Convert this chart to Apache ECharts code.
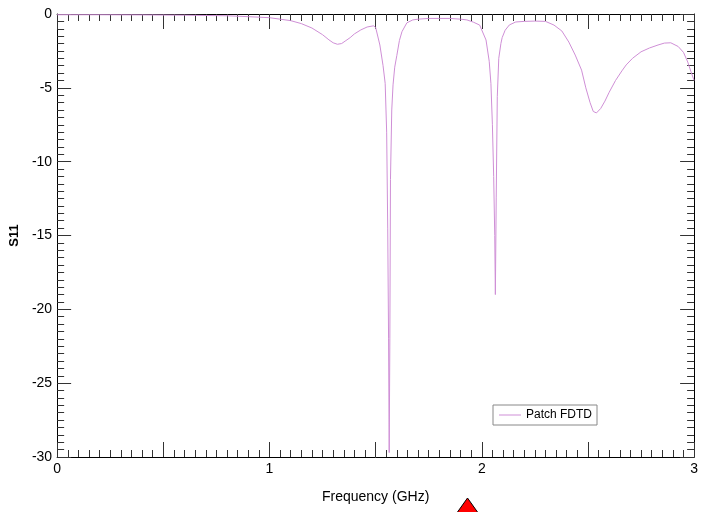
<!DOCTYPE html>
<html>
<head>
<meta charset="utf-8">
<script src="https://cdn.jsdelivr.net/npm/echarts@6/dist/echarts.min.js"></script>
<style>
  html, body { margin: 0; padding: 0; background: #fff; }
  #chart { width: 701px; height: 512px; }
</style>
</head>
<body>
<div id="chart"></div>
<script>
// frequency points (GHz) and S11 values (dB)
var freq = [
  0.00, 0.20, 0.40, 0.60, 0.80, 0.90, 1.00, 1.05, 1.10, 1.15,
  1.20, 1.25, 1.28, 1.30, 1.32, 1.34, 1.36, 1.38, 1.40, 1.43,
  1.46, 1.49, 1.50, 1.52, 1.535, 1.545, 1.552, 1.557, 1.561, 1.564,
  1.567, 1.570, 1.576, 1.582, 1.59, 1.60, 1.612, 1.624, 1.647, 1.675,
  1.70, 1.75, 1.80, 1.85, 1.90, 1.93, 1.96, 1.99, 2.02, 2.035,
  2.043, 2.05, 2.056, 2.061, 2.064, 2.068, 2.073, 2.08, 2.09, 2.096,
  2.11, 2.13, 2.16, 2.20, 2.25, 2.30, 2.34, 2.377, 2.41, 2.44,
  2.47, 2.49, 2.51, 2.525, 2.54, 2.56, 2.58, 2.60, 2.63, 2.66,
  2.68, 2.71, 2.75, 2.79, 2.83, 2.86, 2.89, 2.925, 2.95, 2.97,
  2.985, 3.00
];
var s11 = [
  -0.05, -0.05, -0.06, -0.08, -0.12, -0.18, -0.25, -0.35, -0.45, -0.65,
  -0.95, -1.4, -1.75, -1.95, -2.05, -2.0, -1.8, -1.6, -1.35, -1.08,
  -0.88, -0.8, -0.9, -2.1, -3.5, -4.7, -8, -14.5, -22, -29.7,
  -22, -11.2, -6.5, -4.8, -3.6, -2.8, -1.8, -1.2, -0.6, -0.4,
  -0.35, -0.3, -0.3, -0.3, -0.35, -0.4, -0.55, -0.75, -1.76, -3.2,
  -4.7, -7.5, -11, -15, -19, -12.4, -5.6, -3.0, -2.0, -1.6,
  -1.1, -0.74, -0.54, -0.5, -0.48, -0.5, -0.75, -1.15, -1.9, -2.78,
  -3.8, -5.0, -6.0, -6.6, -6.7, -6.4, -5.9, -5.3, -4.5, -3.85,
  -3.45, -3.0, -2.56, -2.3, -2.1, -1.97, -1.95, -2.2, -2.6, -3.25,
  -3.9, -4.5
];
var seriesName = 'Patch FDTD';
var xLabels = ['0', '1', '2', '3'];

var font = "'Liberation Sans Narrow', 'Liberation Sans', Arial, sans-serif";

var points = [];
for (var i = 0; i < freq.length; i++) {
  points.push([freq[i], s11[i]]);
}

function xAxisOpt(pos, showLabel) {
  return {
    type: 'value',
    position: pos,
    min: 0,
    max: 3,
    interval: 0.5,
    axisLine: { show: true, onZero: false, lineStyle: { color: '#000', width: 1 } },
    axisTick: { show: true, inside: true, length: 15, lineStyle: { color: '#333' } },
    minorTick: { show: true, splitNumber: 10, length: 7, lineStyle: { color: '#333' } },
    splitLine: { show: false },
    axisLabel: {
      show: showLabel,
      margin: 5,
      color: '#000',
      fontFamily: font,
      fontSize: 14,
      formatter: function (v) {
        var idx = xLabels.indexOf(String(v));
        return idx >= 0 ? xLabels[idx] : '';
      }
    }
  };
}

function yAxisOpt(pos, showLabel) {
  return {
    type: 'value',
    position: pos,
    min: -30,
    max: 0,
    interval: 5,
    axisLine: { show: true, onZero: false, lineStyle: { color: '#000', width: 1 } },
    axisTick: { show: true, inside: true, length: 14, lineStyle: { color: '#333' } },
    minorTick: { show: true, splitNumber: 10, length: 7, lineStyle: { color: '#333' } },
    splitLine: { show: false },
    axisLabel: {
      show: showLabel,
      margin: 5,
      color: '#000',
      fontFamily: font,
      fontSize: 14
    }
  };
}

var chart = echarts.init(document.getElementById('chart'));

var xBottom = xAxisOpt('bottom', true);
xBottom.name = 'Frequency (GHz)';
xBottom.nameLocation = 'middle';
xBottom.nameGap = 33;
xBottom.nameTextStyle = { color: '#000', fontFamily: font, fontSize: 14 };

var yLeft = yAxisOpt('left', true);
yLeft.name = 'S11';
yLeft.nameLocation = 'middle';
yLeft.nameGap = 24;
yLeft.nameTextStyle = { color: '#000', fontFamily: font, fontSize: 13, fontWeight: 'bold' };

chart.setOption({
  backgroundColor: '#fff',
  animation: false,
  grid: { left: 54, right: 4, top: 14, bottom: 55 },
  xAxis: [xBottom, xAxisOpt('top', false)],
  yAxis: [yLeft, yAxisOpt('right', false)],
  legend: {
    data: [seriesName],
    left: 493,
    top: 405,
    orient: 'vertical',
    padding: [4, 5, 4, 6],
    icon: 'rect',
    itemWidth: 22,
    itemHeight: 1,
    itemGap: 4,
    borderColor: '#888',
    borderWidth: 1,
    backgroundColor: '#fff',
    textStyle: { color: '#000', fontFamily: font, fontSize: 12 }
  },
  series: [{
    name: seriesName,
    type: 'line',
    data: points,
    symbol: 'none',
    smooth: false,
    lineStyle: { color: '#cf8fd6', width: 1 },
    itemStyle: { color: '#cf8fd6' }
  }],
  graphic: [{
    type: 'polygon',
    shape: { points: [[467.5, 498], [449, 524], [486, 524]] },
    style: { fill: '#ff0000', stroke: '#000', lineWidth: 1 }
  }]
});
</script>
</body>
</html>
